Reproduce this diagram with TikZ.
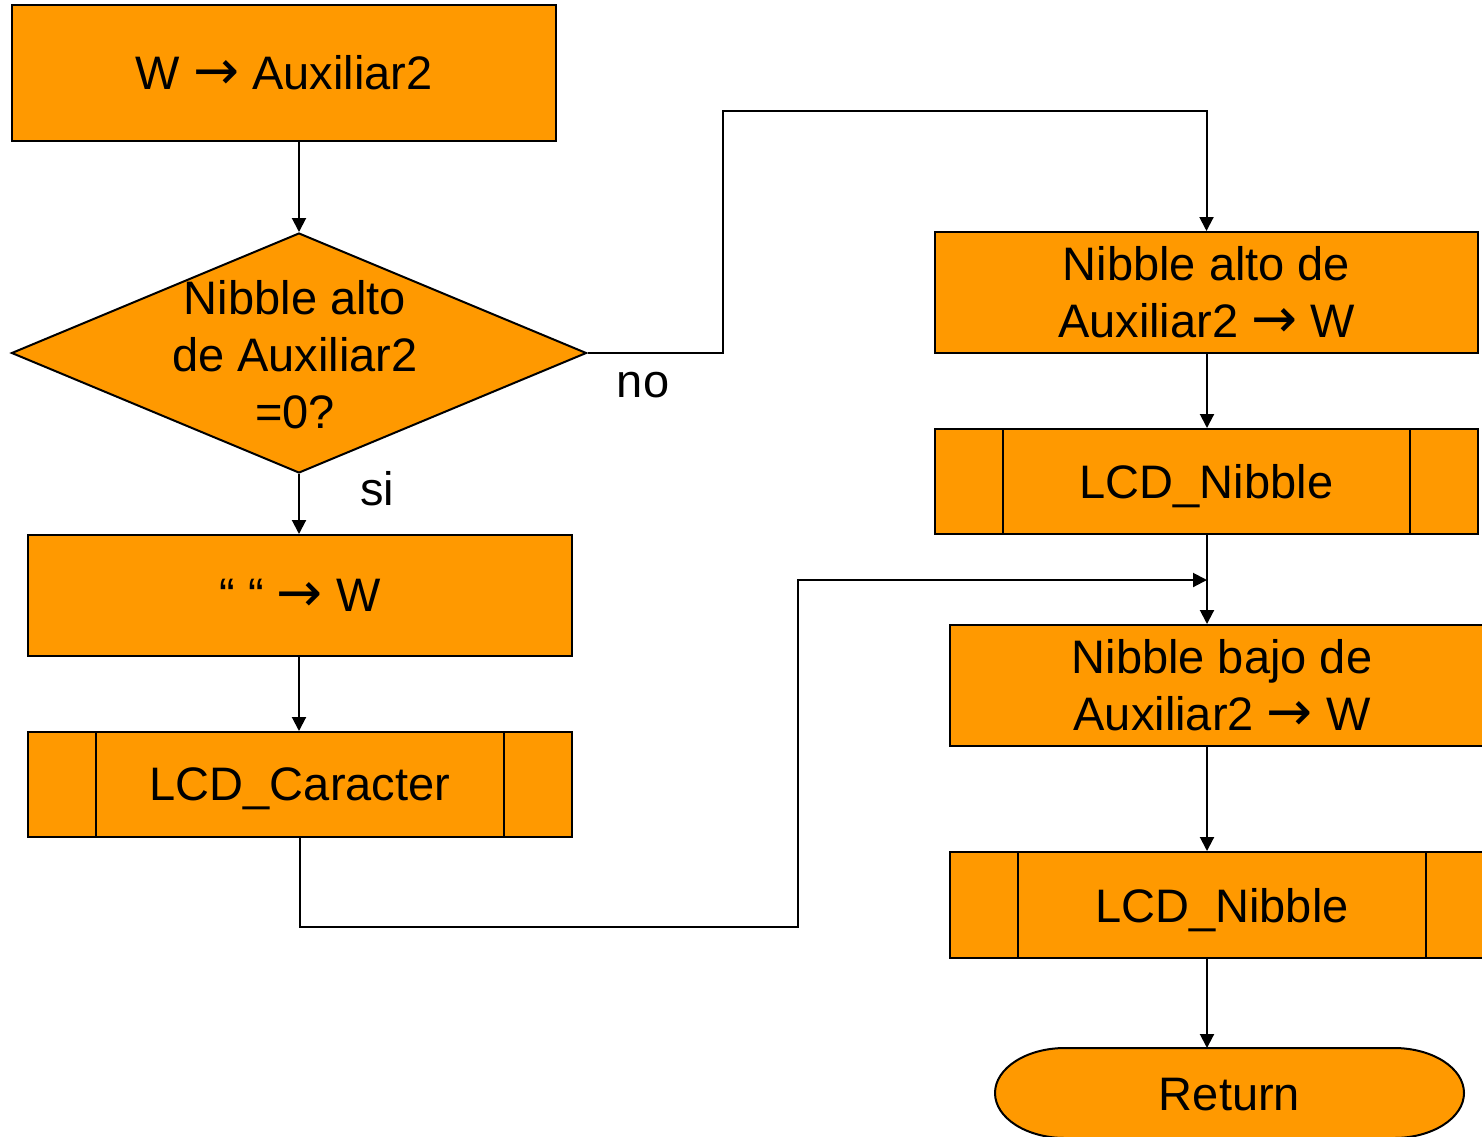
\documentclass[tikz,border=0pt]{standalone}
\usepackage{fontspec}
\setmainfont{Liberation Sans}
\newfontfamily\arrowfont{DejaVu Sans}
\usepackage{tikz}
\usetikzlibrary{positioning,arrows.meta,shapes.geometric}

\definecolor{boxorange}{RGB}{255,153,0}
\newcommand{\toarrow}{{\arrowfont\fontsize{55}{57}\selectfont →}}

\begin{document}
\begin{tikzpicture}[x=1pt, y=-1pt, >={Triangle[length=14pt,width=14pt]},
    font=\fontsize{47}{57}\selectfont, line width=2pt,
    box/.style={rectangle, draw=black, fill=boxorange, inner sep=0pt, align=center},
    subproc/.style={box, text depth=0pt, path picture={
        \draw ([xshift=68pt]path picture bounding box.north west) -- ([xshift=68pt]path picture bounding box.south west);
        \draw ([xshift=-68pt]path picture bounding box.north east) -- ([xshift=-68pt]path picture bounding box.south east);}},
    decision/.style={diamond, draw=black, fill=boxorange, inner sep=0pt},
    flow/.style={->, line width=2pt}]

\useasboundingbox (0,0) rectangle (1482,1136);
\clip (0,0) rectangle (1482,1136);

% Left column
\node[box, minimum width=544pt, minimum height=136pt] (save) at (284,73) {W \toarrow{} Auxiliar2};
\node[decision, minimum width=575pt, minimum height=240pt] (test) at (299,353) {};
\node[align=center] (testtxt) at (295,355) {Nibble alto\\de Auxiliar2\\=0?};
\node[box, minimum width=544pt, minimum height=121pt] (space) at (300,595.5) {“ “ \toarrow{} W};
\node[subproc, minimum width=544pt, minimum height=105pt] (lcdchar) at (300,784.5) {LCD\_Caracter};

% Right column
\node[box, minimum width=543pt, minimum height=121pt] (hinib) at (1206.5,292.5) {Nibble alto de\\Auxiliar2 \toarrow{} W};
\node[subproc, minimum width=543pt, minimum height=105pt] (lcdhi) at (1206.5,481.5) {LCD\_Nibble};
\node[box, minimum width=544pt, minimum height=121pt] (lonib) at (1222,685.5) {Nibble bajo de\\Auxiliar2 \toarrow{} W};
\node[subproc, minimum width=544pt, minimum height=106pt] (lcdlo) at (1222,905) {LCD\_Nibble};

% Return terminal
\path[draw=black, fill=boxorange] (1065,1048) -- (1394,1048)
    arc[start angle=-90, end angle=90, x radius=70, y radius=45] -- (1065,1138)
    arc[start angle=90, end angle=270, x radius=70, y radius=45] -- cycle;
\node (ret) at (1229.5,1095) {Return};

% Labels
\node[anchor=base] (nolbl) at (643,397) {no};
\node[anchor=base] (silbl) at (377,505) {si};

% Bends
\coordinate (nobend) at (723,111);
\coordinate (sibend) at (798,927);
\coordinate (merge) at (1207,580);

% Connectors
\draw[flow] (test.north |- save.south) -- (test.north);
\draw[flow] (test.south) -- (test.south |- space.north);
\draw[flow] (test.south |- space.south) -- (test.south |- lcdchar.north);
\draw[flow] (test.east) -| (nobend) -| (hinib.north);
\draw[flow] (hinib.south -| merge) -- (lcdhi.north -| merge);
\draw[flow] (lcdhi.south -| merge) -- (lonib.north -| merge);
\draw[flow] (lcdchar.south) |- (sibend) |- (merge);
\draw[flow] (lonib.south -| merge) -- (lcdlo.north -| merge);
\draw[flow] (lcdlo.south -| merge) -- (1207,1048);

\end{tikzpicture}
\end{document}
